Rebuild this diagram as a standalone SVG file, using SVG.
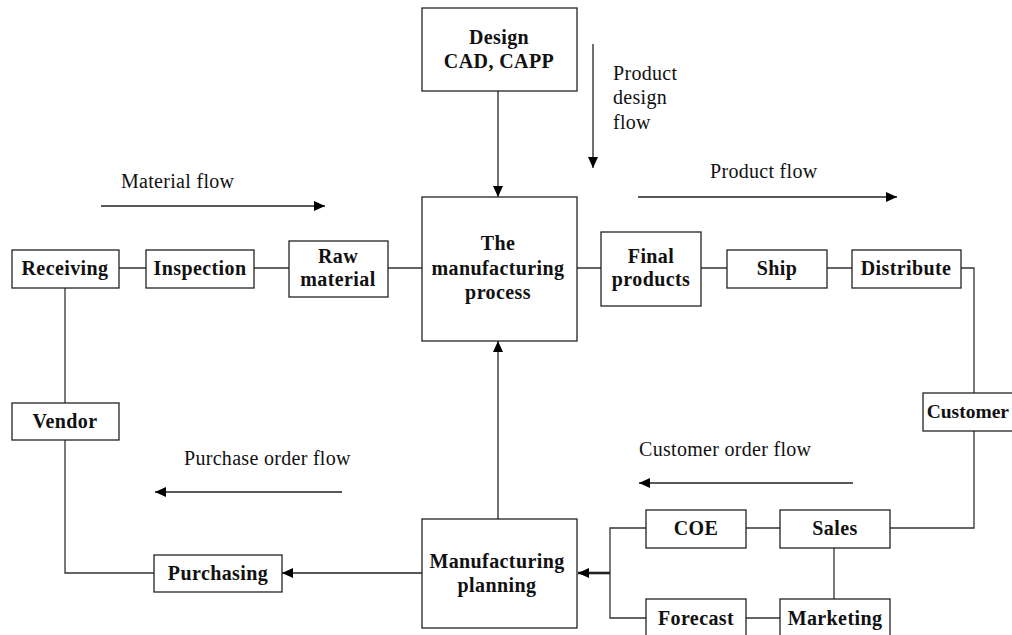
<svg xmlns="http://www.w3.org/2000/svg" width="1012" height="635" viewBox="0 0 1012 635">
  <style>
    .box { fill: #fff; stroke: #222; stroke-width: 1.3; }
    .lbl { font-family: "Liberation Serif", "Times New Roman", serif; font-weight: bold; font-size: 20px; letter-spacing: 0.4px; fill: #111; text-anchor: middle; }
    .flow { font-family: "Liberation Serif", "Times New Roman", serif; font-size: 20px; letter-spacing: 0.3px; fill: #111; }
    .wire { fill: none; stroke: #333; stroke-width: 1.3; }
    .arr { fill: none; stroke: #222; stroke-width: 1.3; marker-end: url(#tip); }
  </style>
  <defs>
    <marker id="tip" markerUnits="userSpaceOnUse" markerWidth="12" markerHeight="12" viewBox="0 0 12 12" refX="11" refY="6" orient="auto">
      <path d="M0,1 L11,6 L0,11 Z" fill="#000"/>
    </marker>
  </defs>
  <rect width="1012" height="635" fill="#fff"/>

  <!-- connectors -->
  <g id="connectors">
    <!-- material chain -->
    <path class="wire" d="M119,268 H146 M254,268 H289 M388,268 H422"/>
    <!-- product chain -->
    <path class="wire" d="M577,268 H601 M701,268 H727 M827,268 H852 M961,268 H974 V393"/>
    <!-- customer to sales -->
    <path class="wire" d="M974,431 V528 H890"/>
    <path class="wire" d="M746,528 H780 M834,548 V599 M746,618 H780"/>
    <!-- COE / Forecast bracket -->
    <path class="wire" d="M646,528 H610 V618 H646"/>
    <path class="arr" d="M610,573 H578" style="stroke-width:2.6"/>
    <!-- design into process -->
    <path class="arr" d="M498,91 V197"/>
    <!-- planning up to process -->
    <path class="arr" d="M498,519 V341"/>
    <!-- planning to purchasing -->
    <path class="arr" d="M422,573 H282"/>
    <!-- purchasing, vendor, receiving -->
    <path class="wire" d="M154,573 H65 V440 M65,403 V288"/>
    <!-- flow indicators -->
    <path class="arr" d="M101,206 H325"/>
    <path class="arr" d="M593,44 V168"/>
    <path class="arr" d="M638,197 H897"/>
    <path class="arr" d="M342,492 H155"/>
    <path class="arr" d="M853,483 H639"/>
  </g>

  <!-- flow labels -->
  <text class="flow" x="121" y="188">Material flow</text>
  <text class="flow" x="613" y="80">Product</text>
  <text class="flow" x="613" y="104">design</text>
  <text class="flow" x="613" y="129">flow</text>
  <text class="flow" x="710" y="178">Product flow</text>
  <text class="flow" x="184" y="465">Purchase order flow</text>
  <text class="flow" x="639" y="456">Customer order flow</text>

  <g id="design">
    <rect class="box" x="422" y="8" width="155" height="83"/>
    <text class="lbl" x="499" y="44">Design</text>
    <text class="lbl" x="499" y="68">CAD, CAPP</text>
  </g>
  <g id="process">
    <rect class="box" x="422" y="197" width="155" height="144"/>
    <text class="lbl" x="498" y="250">The</text>
    <text class="lbl" x="498" y="275">manufacturing</text>
    <text class="lbl" x="498" y="299">process</text>
  </g>
  <g id="receiving">
    <rect class="box" x="12" y="250" width="107" height="38"/>
    <text class="lbl" x="65" y="275">Receiving</text>
  </g>
  <g id="inspection">
    <rect class="box" x="146" y="250" width="108" height="38"/>
    <text class="lbl" x="200" y="275">Inspection</text>
  </g>
  <g id="raw-material">
    <rect class="box" x="289" y="241" width="99" height="56"/>
    <text class="lbl" x="338" y="263">Raw</text>
    <text class="lbl" x="338" y="286">material</text>
  </g>
  <g id="final-products">
    <rect class="box" x="601" y="232" width="100" height="74"/>
    <text class="lbl" x="651" y="263">Final</text>
    <text class="lbl" x="651" y="286">products</text>
  </g>
  <g id="ship">
    <rect class="box" x="727" y="250" width="100" height="38"/>
    <text class="lbl" x="777" y="275">Ship</text>
  </g>
  <g id="distribute">
    <rect class="box" x="852" y="250" width="109" height="38"/>
    <text class="lbl" x="906" y="275">Distribute</text>
  </g>
  <g id="customer">
    <rect class="box" x="923" y="393" width="110" height="38"/>
    <text class="lbl" x="1009" y="418" style="text-anchor:end;letter-spacing:0;font-size:19.5px">Customer</text>
  </g>
  <g id="vendor">
    <rect class="box" x="12" y="403" width="107" height="37"/>
    <text class="lbl" x="65" y="428">Vendor</text>
  </g>
  <g id="purchasing">
    <rect class="box" x="154" y="555" width="128" height="37"/>
    <text class="lbl" x="218" y="580">Purchasing</text>
  </g>
  <g id="planning">
    <rect class="box" x="422" y="519" width="155" height="109"/>
    <text class="lbl" x="497" y="568">Manufacturing</text>
    <text class="lbl" x="497" y="592">planning</text>
  </g>
  <g id="coe">
    <rect class="box" x="646" y="510" width="100" height="38"/>
    <text class="lbl" x="696" y="535">COE</text>
  </g>
  <g id="sales">
    <rect class="box" x="780" y="510" width="110" height="38"/>
    <text class="lbl" x="835" y="535">Sales</text>
  </g>
  <g id="forecast">
    <rect class="box" x="646" y="599" width="100" height="40"/>
    <text class="lbl" x="696" y="625">Forecast</text>
  </g>
  <g id="marketing">
    <rect class="box" x="780" y="599" width="110" height="40"/>
    <text class="lbl" x="835" y="625">Marketing</text>
  </g>
</svg>
